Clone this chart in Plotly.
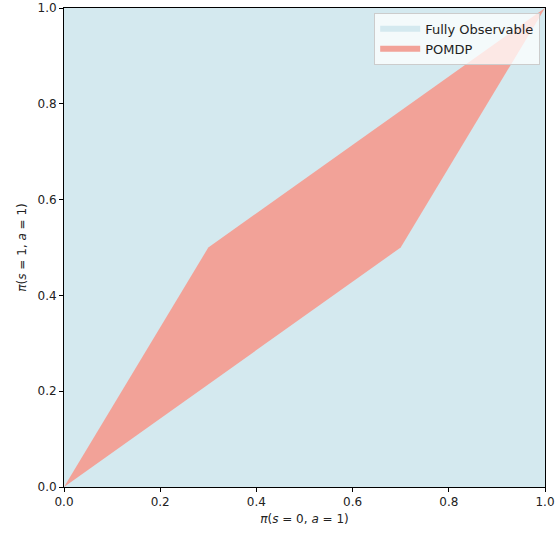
import plotly.graph_objects as go

# Data
full_x = [0, 1, 1, 0, 0]
full_y = [0, 0, 1, 1, 0]
pomdp_x = [0, 0.3, 1, 0.7, 0]
pomdp_y = [0, 0.5, 1, 0.5, 0]
tick_vals = [0, 0.2, 0.4, 0.6, 0.8, 1.0]
tick_text = ["0.0", "0.2", "0.4", "0.6", "0.8", "1.0"]

fig = go.Figure()
fig.add_trace(go.Scatter(x=full_x, y=full_y, fill="toself", mode="none",
                         fillcolor="rgb(212,233,239)", name="Fully Observable"))
fig.add_trace(go.Scatter(x=pomdp_x, y=pomdp_y, fill="toself", mode="none",
                         fillcolor="rgb(242,162,152)", name="POMDP"))

axis_common = dict(range=[0, 1], tickvals=tick_vals, ticktext=tick_text,
                   showgrid=False, zeroline=False, showline=True, linecolor="black",
                   linewidth=1, mirror=True, ticks="outside", ticklen=4,
                   tickcolor="black", tickfont=dict(size=12, color="#222"),
                   ticklabeloverflow="allow")
fig.update_xaxes(title=dict(text="<i>π</i>(<i>s</i> = 0, <i>a</i> = 1)", font=dict(size=12, color="#222"), standoff=6),
                 **axis_common)
fig.update_yaxes(title=dict(text="<i>π</i>(<i>s</i> = 1, <i>a</i> = 1)", font=dict(size=12, color="#222"), standoff=8),
                 **axis_common)

fig.update_layout(
    width=558, height=535,
    margin=dict(l=64, r=13, t=8, b=48, autoexpand=False),
    plot_bgcolor="white", paper_bgcolor="white",
    font=dict(family="DejaVu Sans", size=12, color="#222"),
    legend=dict(x=0.99, y=0.99, xanchor="right", yanchor="top",
                bgcolor="rgba(255,255,255,0.75)", bordercolor="#ccc", borderwidth=1,
                font=dict(size=13), tracegroupgap=0, itemwidth=40),
)
fig.write_html("out.html")
